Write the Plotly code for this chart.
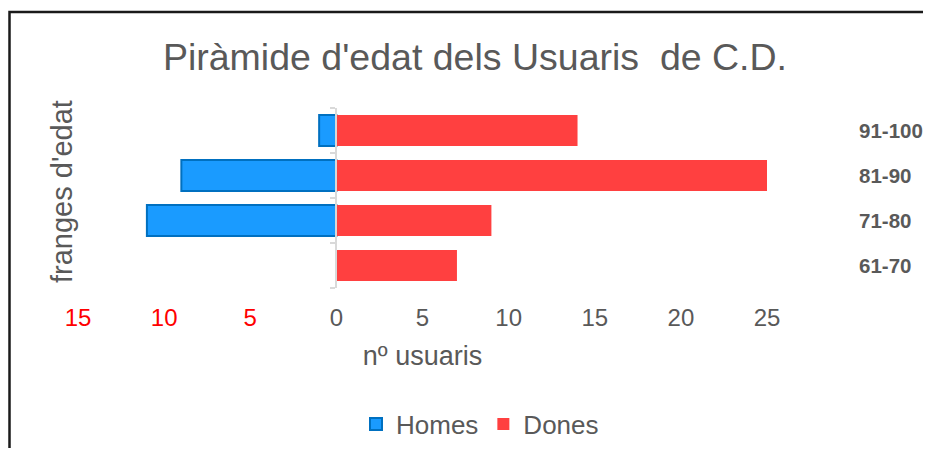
import plotly.graph_objects as go

categories = ["61-70", "71-80", "81-90", "91-100"]
homes = [0, 11, 9, 1]
dones = [7, 9, 25, 14]
tick_vals = [-15, -10, -5, 0, 5, 10, 15, 20, 25]
tick_text = ["15", "10", "5", "0", "5", "10", "15", "20", "25"]

GRAY = "#595959"
FONT = "Liberation Sans, Arial, sans-serif"

# page offset (body margin) and plot area in screen pixels
OFF = 8
W, H = 931 - 2 * OFF, 456 - 2 * OFF
L, R, T, B = 78, 767, 108, 288
pw, ph = R - L, B - T

def px_x(x):
    return (x - L) / pw

def px_y(y):
    return (B - y) / ph

fig = go.Figure()
fig.add_trace(go.Bar(
    y=categories, x=[-v for v in homes], name="Homes", orientation="h",
    marker=dict(color="#1A9BFF", line=dict(color="#0070C0", width=2)),
    customdata=homes, hovertemplate="%{y}: %{customdata}<extra>Homes</extra>",
))
fig.add_trace(go.Bar(
    y=categories, x=dones, name="Dones", orientation="h",
    marker=dict(color="#FF4040", line=dict(width=0)),
))

ticktext_html = [
    (f"<span style='color:#FF0000'>{t}</span>" if v < 0 else t)
    for v, t in zip(tick_vals, tick_text)
]

annotations = []
for c in categories:
    annotations.append(dict(
        x=px_x(857), xref="paper", y=c, yref="y", text=f"<b>{c}</b>",
        showarrow=False, xanchor="left", yanchor="middle",
        font=dict(family=FONT, size=20.5, color=GRAY),
    ))
annotations.append(dict(
    x=px_x(62), xref="paper", y=px_y(192), yref="paper", text="franges d'edat",
    textangle=-90, showarrow=False, xanchor="center", yanchor="middle",
    font=dict(family=FONT, size=29, color=GRAY),
))

fig.update_layout(
    width=W, height=H,
    margin=dict(l=L - OFF, r=W - (R - OFF), t=T - OFF, b=H - (B - OFF), pad=0,
                autoexpand=False),
    paper_bgcolor="white", plot_bgcolor="white",
    barmode="relative", bargap=0.31,
    font=dict(family=FONT, color=GRAY),
    title=dict(text="Piràmide d'edat dels Usuaris  de C.D.", x=(475 - OFF) / W, xanchor="center",
               y=1 - (57 - OFF) / H, yanchor="middle", yref="container",
               font=dict(family=FONT, size=37.5, color=GRAY)),
    xaxis=dict(range=[-15, 25], tickvals=tick_vals, ticktext=ticktext_html,
               showgrid=False, zeroline=False, showline=False,
               ticks="outside", ticklen=8, tickcolor="rgba(0,0,0,0)",
               tickfont=dict(family=FONT, size=24, color=GRAY),
               title=dict(text="nº usuaris", standoff=16,
                          font=dict(family=FONT, size=27, color=GRAY))),
    yaxis=dict(categoryorder="array", categoryarray=categories, range=[-0.5, 3.5],
               anchor="free", position=0.375, showline=True, linecolor="#D9D9D9",
               linewidth=2, ticks="outside", tickson="boundaries", ticklen=5,
               tickcolor="#D9D9D9", tickwidth=2, showticklabels=False,
               showgrid=False, zeroline=False),
    legend=dict(orientation="h", x=px_x(480), xanchor="center", y=px_y(424),
                yanchor="middle", font=dict(family=FONT, size=26, color=GRAY),
                itemclick=False, traceorder="normal"),
    annotations=annotations,
    shapes=[dict(type="rect", xref="paper", yref="paper",
                 x0=px_x(9.5), x1=px_x(960), y0=px_y(480), y1=px_y(12),
                 line=dict(color="#1a1a1a", width=2.5), fillcolor="rgba(0,0,0,0)",
                 layer="below")],
    showlegend=True,
)

fig.write_html("out.html")
